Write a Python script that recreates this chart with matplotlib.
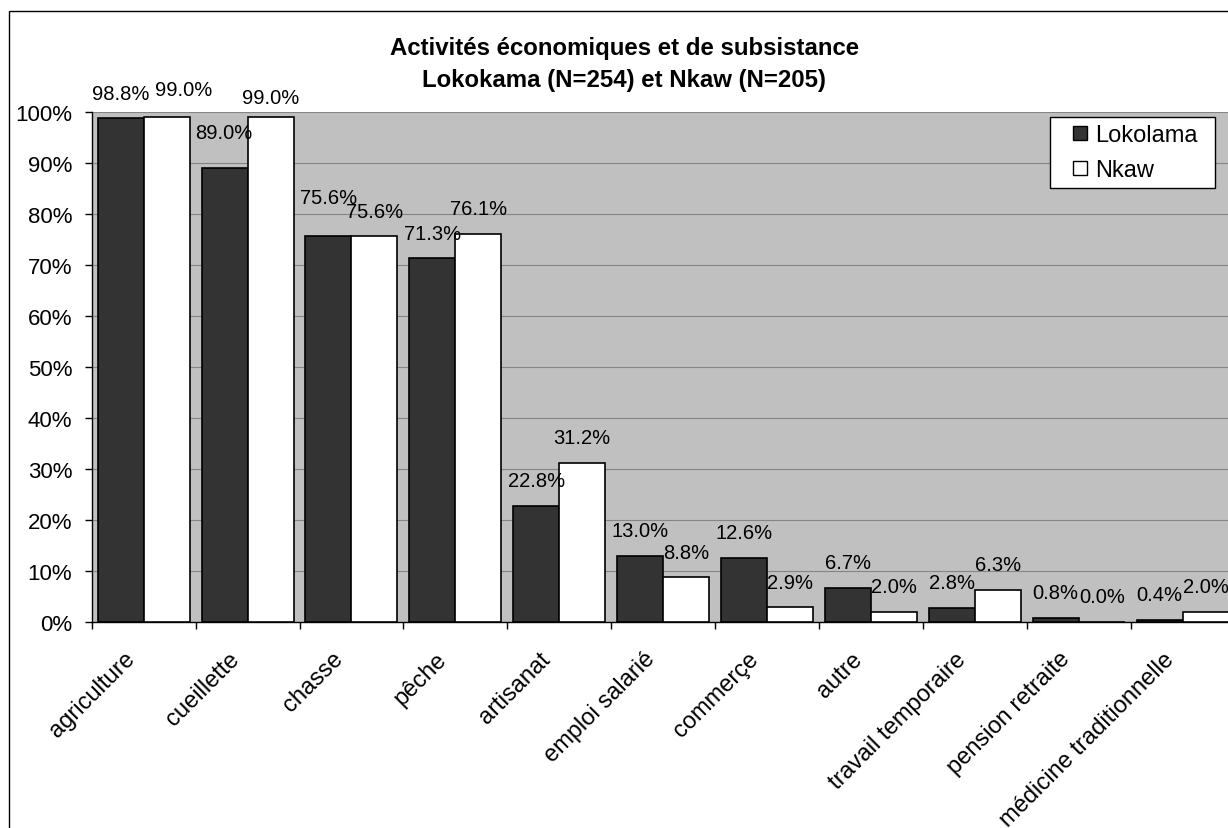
import matplotlib
matplotlib.use('Agg')
import matplotlib.pyplot as plt
from matplotlib.patches import Rectangle
from matplotlib.lines import Line2D
from matplotlib.ticker import MultipleLocator, FixedLocator, PercentFormatter
import matplotlib.transforms as mtransforms
import numpy as np

plt.rcParams['font.family'] = ['Liberation Sans', 'DejaVu Sans']

categories = ['agriculture', 'cueillette', 'chasse', 'pêche', 'artisanat',
              'emploi salarié', 'commerçe', 'autre', 'travail temporaire',
              'pension retraite', 'médicine traditionnelle']
lokolama = [98.8, 89.0, 75.6, 71.3, 22.8, 13.0, 12.6, 6.7, 2.8, 0.8, 0.4]
nkaw = [99.0, 99.0, 75.6, 76.1, 31.2, 8.8, 2.9, 2.0, 6.3, 0.0, 2.0]
series_names = ['Lokolama', 'Nkaw']
title_lines = ['Activités économiques et de subsistance',
               'Lokokama (N=254) et Nkaw (N=205)']

W, H = 1228, 829
fig = plt.figure(figsize=(W / 100, H / 100), dpi=100)

# plot area in pixels: left axis at x=91.7, 0% at y=623, 100% at y=113
x0, x1 = 91.7, 1234.6
y0, y1 = 623.0, 113.0
ax = fig.add_axes([x0 / W, 1 - y0 / H, (x1 - x0) / W, (y0 - y1) / H])
ax.set_facecolor('#c0c0c0')

n = len(categories)
idx = np.arange(n)
bw = 0.443
ax.bar(idx - bw / 2, lokolama, bw, color='#333333', edgecolor='black', linewidth=1.2, zorder=3)
ax.bar(idx + bw / 2, nkaw, bw, color='white', edgecolor='black', linewidth=1.2, zorder=3)

ax.set_xlim(-0.5, n - 0.5)
ax.set_ylim(0, 100)
ax.yaxis.set_major_locator(MultipleLocator(10))
ax.yaxis.set_major_formatter(PercentFormatter(decimals=0))
ax.grid(axis='y', color='#858585', linewidth=0.8, zorder=1)
ax.set_axisbelow(True)

for s in ['top', 'right']:
    ax.spines[s].set_visible(False)
ax.spines['left'].set_linewidth(1.0)
ax.spines['bottom'].set_linewidth(1.0)

ax.tick_params(axis='y', direction='out', length=5, width=1, pad=9, labelsize=16)
# category labels at the centres, tick marks on the boundaries
ax.set_xticks(idx)
ax.set_xticklabels(categories, rotation=45, ha='right', va='center',
                   rotation_mode='anchor', fontsize=17)
ax.tick_params(axis='x', which='major', length=0, pad=24)
ax.xaxis.set_minor_locator(FixedLocator(np.arange(-0.5, n, 1.0)))
ax.tick_params(axis='x', which='minor', direction='out', length=5, width=1)
shift = mtransforms.ScaledTranslation(-12 / 100, 0, fig.dpi_scale_trans)
for lab in ax.get_xticklabels():
    lab.set_transform(lab.get_transform() + shift)

# value labels; a few were nudged by hand to avoid overlaps (pixels)
nudges = {(0, 1): (-1, 11), (0, 2): (0, 14), (1, 0): (17, 3), (1, 1): (0, -5)}
for si, (vals, off) in enumerate([(lokolama, -bw / 2), (nkaw, bw / 2)]):
    for i, v in enumerate(vals):
        dx, dy = nudges.get((si, i), (0, 0))
        ax.annotate(f'{v:.1f}%', xy=(i + off, v), xytext=(dx * 0.72, (25 + dy) * 0.72),
                    textcoords='offset points', ha='center', va='center',
                    fontsize=14.5, annotation_clip=False, zorder=5)

handles = [Line2D([], [], linestyle='none', marker='s', markersize=10.5,
                  markerfacecolor=c, markeredgecolor='black', markeredgewidth=1.0)
           for c in ['#333333', 'white']]
leg = ax.legend(handles, series_names, loc='upper left', mode='expand',
                bbox_to_anchor=(1050 / W, 1 - 189 / H, 165 / W, 71 / H),
                bbox_transform=fig.transFigure, fontsize=17, frameon=True,
                fancybox=False, framealpha=1, edgecolor='black',
                handlelength=1.9, handletextpad=-0.3,
                labelspacing=0.56, borderpad=0.3, borderaxespad=0)
leg.get_frame().set_linewidth(1.0)

fig.text(625 / W, 1 - 49 / H, title_lines[0], ha='center', va='center',
         fontsize=17.3, fontweight='bold')
fig.text(624 / W, 1 - 81 / H, title_lines[1], ha='center', va='center',
         fontsize=17.3, fontweight='bold')

# chart frame
fig.add_artist(Rectangle((9 / W, -0.1), 1.2, 1 - 12.3 / H + 0.1, transform=fig.transFigure,
                         fill=False, edgecolor='black', linewidth=1.0))

fig.savefig('out.png', dpi=100, facecolor='white')
